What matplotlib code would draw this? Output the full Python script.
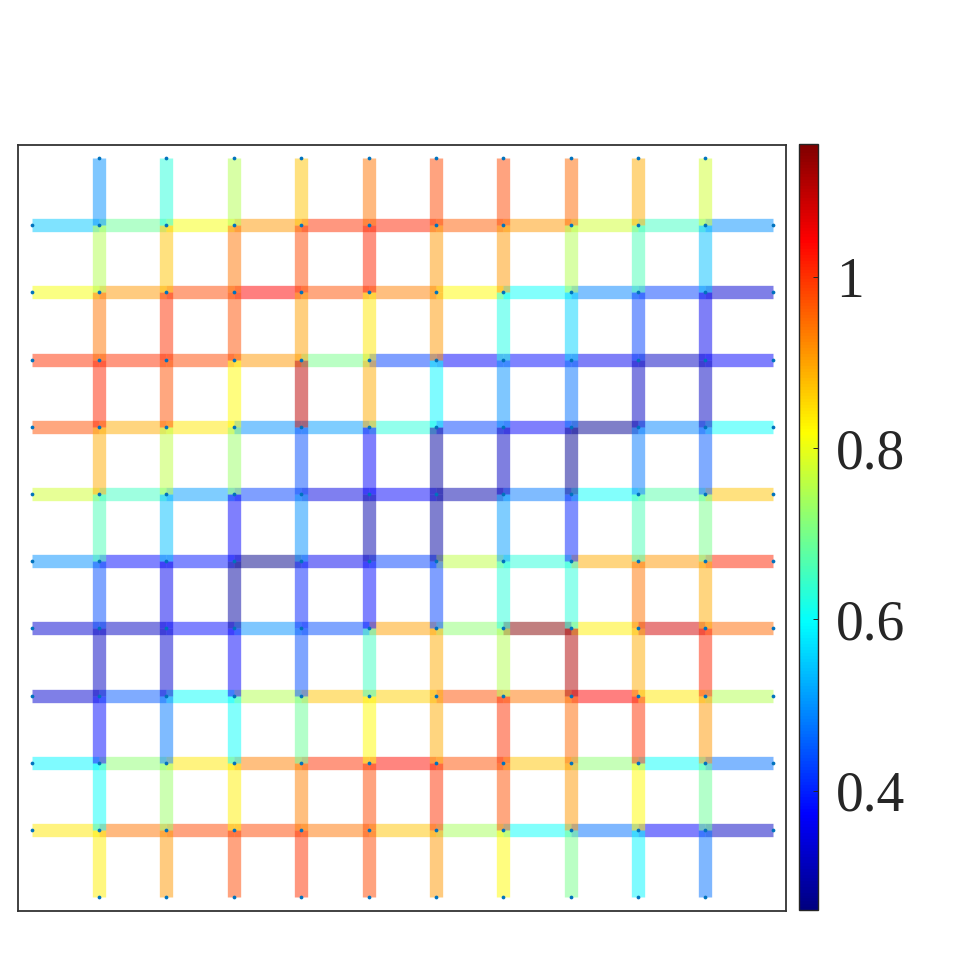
import numpy as np
import matplotlib
matplotlib.use('Agg')
import matplotlib.pyplot as plt
from matplotlib.collections import LineCollection
from matplotlib.colors import LinearSegmentedColormap, Normalize
from matplotlib.cm import ScalarMappable

# 横向边的值，每行从左 (x=0) 到右 (x=11)，共 11 段
h_row10 = [0.55, 0.69, 0.81, 0.91, 1.00, 1.01, 0.96, 0.91, 0.78, 0.65, 0.50]
h_row9 = [0.81, 0.91, 0.98, 1.04, 0.97, 0.93, 0.82, 0.60, 0.49, 0.43, 0.33]
h_row8 = [1.00, 1.00, 0.98, 0.91, 0.70, 0.43, 0.37, 0.38, 0.36, 0.32, 0.37]
h_row7 = [0.97, 0.89, 0.84, 0.50, 0.51, 0.63, 0.43, 0.37, 0.28, 0.49, 0.60]
h_row6 = [0.78, 0.65, 0.51, 0.43, 0.35, 0.37, 0.30, 0.48, 0.60, 0.67, 0.87]
h_row5 = [0.50, 0.38, 0.39, 0.27, 0.36, 0.43, 0.76, 0.63, 0.89, 0.91, 1.01]
h_row4 = [0.33, 0.32, 0.38, 0.50, 0.44, 0.90, 0.72, 1.15, 0.83, 1.08, 0.95]
h_row3 = [0.33, 0.45, 0.60, 0.75, 0.87, 0.86, 0.97, 0.94, 1.04, 0.84, 0.75]
h_row2 = [0.59, 0.72, 0.84, 0.93, 1.00, 1.03, 0.97, 0.87, 0.72, 0.60, 0.47]
h_row1 = [0.84, 0.94, 0.98, 0.98, 0.94, 0.87, 0.74, 0.60, 0.47, 0.37, 0.32]

# 纵向边的值，每列从下 (y=0) 到上 (y=11)，共 11 段
v_col1 = [0.83, 0.60, 0.38, 0.32, 0.44, 0.66, 0.89, 1.01, 0.94, 0.75, 0.50]
v_col2 = [0.91, 0.73, 0.48, 0.33, 0.36, 0.54, 0.76, 0.97, 1.00, 0.87, 0.63]
v_col3 = [0.98, 0.83, 0.60, 0.37, 0.29, 0.37, 0.73, 0.82, 0.97, 0.94, 0.75]
v_col4 = [1.00, 0.93, 0.69, 0.44, 0.40, 0.50, 0.44, 1.10, 0.90, 0.98, 0.87]
v_col5 = [0.98, 0.98, 0.82, 0.65, 0.38, 0.30, 0.37, 0.89, 0.84, 1.01, 0.94]
v_col6 = [0.91, 1.00, 0.89, 0.89, 0.43, 0.29, 0.29, 0.59, 0.91, 0.91, 0.98]
v_col7 = [0.82, 0.97, 1.00, 0.75, 0.63, 0.51, 0.32, 0.50, 0.62, 0.91, 0.98]
v_col8 = [0.70, 0.91, 0.95, 1.11, 0.63, 0.40, 0.28, 0.47, 0.56, 0.75, 0.95]
v_col9 = [0.59, 0.82, 1.00, 0.89, 0.94, 0.66, 0.48, 0.32, 0.43, 0.66, 0.89]
v_col10 = [0.47, 0.69, 0.91, 1.01, 0.89, 0.70, 0.45, 0.32, 0.36, 0.54, 0.78]

cbar_ticks = [0.4, 0.6, 0.8, 1.0]
cbar_labels = ['0.4', '0.6', '0.8', '1']
vmin, vmax = 0.26, 1.155

h_rows = [h_row1, h_row2, h_row3, h_row4, h_row5,
          h_row6, h_row7, h_row8, h_row9, h_row10]
v_cols = [v_col1, v_col2, v_col3, v_col4, v_col5,
          v_col6, v_col7, v_col8, v_col9, v_col10]
n = len(h_rows)

# MATLAB 风格的 jet
mjet = LinearSegmentedColormap.from_list('mjet', [
    (0, (0, 0, 0.5)), (1/8, (0, 0, 1)), (3/8, (0, 1, 1)),
    (5/8, (1, 1, 0)), (7/8, (1, 0, 0)), (1, (0.5, 0, 0))], N=256)
norm = Normalize(vmin, vmax)

segs = []
vals = []
for r, row in enumerate(h_rows, start=1):
    for c, v in enumerate(row):
        segs.append([(c, r), (c + 1, r)])
        vals.append(v)
for c, col in enumerate(v_cols, start=1):
    for r, v in enumerate(col):
        segs.append([(c, r), (c, r + 1)])
        vals.append(v)

fig = plt.figure(figsize=(9.6, 9.6), dpi=100)
ax = fig.add_axes([0.019, 0.0514, 0.8, 0.798])

lc = LineCollection(segs, cmap=mjet, norm=norm, linewidths=9.6,
                    alpha=0.5, capstyle='butt')
lc.set_array(np.array(vals))
ax.add_collection(lc)

# 节点
gx, gy = np.meshgrid(np.arange(1, n + 1), np.arange(1, n + 1))
nx = list(gx.ravel())
ny = list(gy.ravel())
for k in range(1, n + 1):
    nx += [0, n + 1, k, k]
    ny += [k, k, 0, n + 1]
ax.plot(nx, ny, 'o', ms=2.7, color='#0072BD', mec='none', zorder=3)

ax.set_xlim(-0.2, n + 1.2)
ax.set_ylim(-0.2, n + 1.2)
ax.set_xticks([])
ax.set_yticks([])
for s in ax.spines.values():
    s.set_color('#333333')
    s.set_linewidth(1.3)

cax = fig.add_axes([0.832, 0.0516, 0.0204, 0.798])
sm = ScalarMappable(norm=norm, cmap=mjet)
cb = fig.colorbar(sm, cax=cax)
cb.set_ticks(cbar_ticks)
cb.set_ticklabels(cbar_labels)
cb.outline.set_edgecolor('#262626')
cb.outline.set_linewidth(1.0)
cax.tick_params(direction='in', length=3.5, width=0.7, color='#262626',
                labelsize=40, labelcolor='#262626', pad=13)
for t in cax.get_yticklabels():
    t.set_fontfamily(['Liberation Serif', 'DejaVu Serif'])

fig.savefig('out.png', dpi=100)
